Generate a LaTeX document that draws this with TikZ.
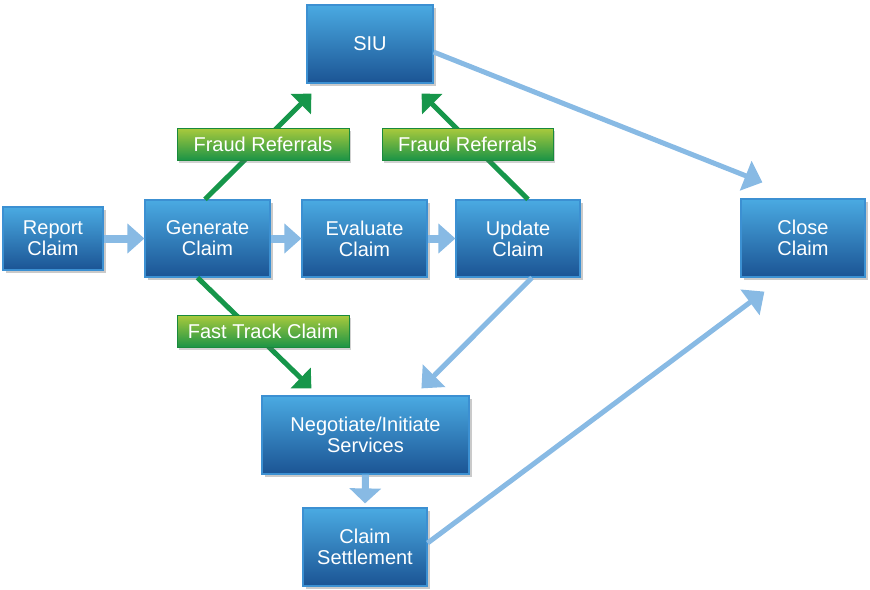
\documentclass[tikz,border=0pt]{standalone}
\usepackage{fontspec}
\setmainfont{Liberation Sans}
\usetikzlibrary{arrows.meta,shadows,calc}
\definecolor{boxtop}{HTML}{4AAAE2}
\definecolor{boxbot}{HTML}{1B5494}
\definecolor{boxedge}{HTML}{3C90D2}
\definecolor{lbltop}{HTML}{AACA3C}
\definecolor{lblbot}{HTML}{1C9446}
\definecolor{lbledge}{HTML}{198A3C}
\definecolor{greenarr}{HTML}{16964A}
\definecolor{bluearr}{HTML}{88BAE4}
\tikzset{
  bluebox/.style={draw=boxedge, line width=1.2pt, top color=boxtop, bottom color=boxbot,
    text=white, align=center, inner sep=0pt, font=\fontsize{20}{21}\selectfont,
    drop shadow={shadow xshift=2.5pt, shadow yshift=-3pt, opacity=0.35, fill=black!60}},
  greenlbl/.style={draw=lbledge, line width=1pt, top color=lbltop, bottom color=lblbot,
    text=white, align=center, inner sep=0pt, minimum height=32pt, font=\fontsize{20}{21}\selectfont,
    drop shadow={shadow xshift=2pt, shadow yshift=-2.5pt, opacity=0.3, fill=black!60}},
  garrow/.style={draw=greenarr, line width=5pt, -{Triangle[width=28pt,length=15pt]}},
  barrow/.style={draw=bluearr, line width=5pt, -{Triangle[width=31pt,length=18pt]}},
  bharrow/.style={draw=bluearr, line width=8pt, -{Triangle[width=29pt,length=17pt]}},
}
\begin{document}
\begin{tikzpicture}[x=1pt,y=-1pt]
\useasboundingbox (0,0) rectangle (870,589);
\node[bluebox, minimum width=100pt, minimum height=63pt] (rep) at (53,238.5) {Report\\Claim};
\node[bluebox, minimum width=125pt, minimum height=77pt] (gen) at (207.5,238.5) {Generate\\Claim};
\node[bluebox, minimum width=125pt, minimum height=77pt] (eva) at (364.5,238.5) {Evaluate\\Claim};
\node[bluebox, minimum width=124pt, minimum height=77pt] (upd) at (518,238.5) {Update\\Claim};
\node[bluebox, minimum width=126pt, minimum height=78pt] (siu) at (370,44) {SIU};
\node[bluebox, minimum width=124pt, minimum height=78pt] (clo) at (803,238) {Close\\Claim};
\node[bluebox, minimum width=207pt, minimum height=78pt] (neg) at (365.5,435) {Negotiate/Initiate\\Services};
\node[bluebox, minimum width=124pt, minimum height=78pt] (set) at (365,547) {Claim\\Settlement};

\coordinate (siutipL) at ($(siu.south west)+(5,10)$);
\coordinate (siutipR) at ($(siu.south east)+(-12,10)$);
\coordinate (negtipL) at ($(neg.north west)+(50,-7)$);
\coordinate (negtipR) at ($(neg.north west)+(160,-7)$);
\coordinate (clotipT) at ($(clo.north west)+(22,-16)$);
\coordinate (clotipB) at ($(clo.south west)+(24,14)$);

\draw[bharrow] (rep.east) -- (gen.west);
\draw[bharrow] (gen.east) -- (eva.west);
\draw[bharrow] (eva.east) -- (upd.west);
\draw[bluearr, line width=7pt, -{Triangle[width=31pt,length=15pt]}, shorten >=4pt] (neg.south) -- (set.north);
\draw[barrow] ($(upd.south)+(14,0)$) -- (negtipR);
\draw[barrow] ($(siu.east)+(0,8)$) -- (clotipT);
\draw[barrow] ($(set.east)+(0,-4)$) -- (clotipB);
\draw[garrow] ($(gen.north)+(-2.5,0)$) -- (siutipL);
\draw[garrow] ($(upd.north)+(10,0)$) -- (siutipR);
\draw[garrow] ($(gen.south)+(-10,0)$) -- (negtipL);

\node[greenlbl, minimum width=172pt] (fr1) at (263,144) {Fraud Referrals};
\node[greenlbl, minimum width=171pt] (fr2) at (467.5,144) {Fraud Referrals};
\node[greenlbl, minimum width=172pt] (ftc) at (263,331) {Fast Track Claim};
\end{tikzpicture}
\end{document}
